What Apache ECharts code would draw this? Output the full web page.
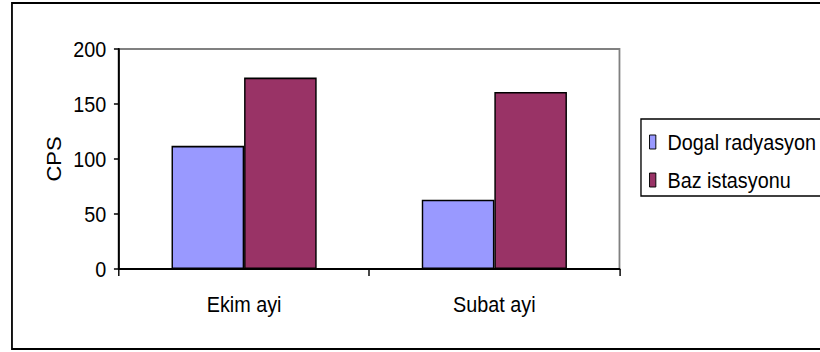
<!DOCTYPE html>
<html>
<head>
<meta charset="utf-8">
<script src="https://cdn.jsdelivr.net/npm/echarts@6/dist/echarts.min.js"></script>
<style>
  html, body { margin: 0; padding: 0; background: #fff; overflow: hidden; }
  #wrap { width: 820px; height: 352px; overflow: hidden; }
  /* The chart is laid out on a wider canvas and squeezed horizontally,
     which gives the condensed lettering of the original figure. */
  #chart { width: 911px; height: 352px; transform: scaleX(0.9); transform-origin: 0 0; }
</style>
</head>
<body>
<div id="wrap"><div id="chart"></div></div>
<script>
// Categories and series values
const categories = ['Ekim ayi', 'Subat ayi'];
const dogalRadyasyon = [112, 63];
const bazIstasyonu = [174, 161];
const yTicks = { min: 0, max: 200, interval: 50 };

const FONT = "'Liberation Sans', Arial, sans-serif";

const chart = echarts.init(document.getElementById('chart'), null, { renderer: 'svg' });

chart.setOption({
  backgroundColor: '#ffffff',
  animation: false,
  textStyle: { fontFamily: FONT },
  graphic: [
    {
      type: 'rect',
      shape: { x: 13.3, y: 3, width: 900, height: 346 },
      style: { fill: 'none', stroke: '#000', lineWidth: 2 },
      z: 0
    }
  ],
  grid: {
    left: 132.2, right: 222.7, top: 49, bottom: 83,
    show: true,
    borderColor: '#808080',
    borderWidth: 2,
    backgroundColor: '#ffffff'
  },
  legend: {
    orient: 'vertical',
    left: 712.2, top: 119,
    width: 200,
    padding: [11, 8, 4, 9],
    itemGap: 14,
    itemWidth: 7,
    itemHeight: 14,
    icon: 'rect',
    borderColor: '#000',
    borderWidth: 1.5,
    itemStyle: { borderColor: '#000', borderWidth: 1 },
    textStyle: { fontFamily: FONT, fontSize: 22, color: '#000', lineHeight: 24, padding: [0, 0, 0, 8] },
    data: ['Dogal radyasyon', 'Baz istasyonu']
  },
  xAxis: {
    type: 'category',
    data: categories,
    axisLine: { lineStyle: { color: '#000', width: 2 } },
    axisTick: { show: true, length: 7, lineStyle: { color: '#000', width: 1.6 } },
    axisLabel: { color: '#000', fontFamily: FONT, fontSize: 22, margin: 24 }
  },
  yAxis: {
    type: 'value',
    min: yTicks.min, max: yTicks.max, interval: yTicks.interval,
    name: 'CPS',
    nameLocation: 'middle',
    nameGap: 61,
    nameRotate: 90,
    nameTextStyle: { color: '#000', fontFamily: FONT, fontSize: 22 },
    axisLine: { show: true, lineStyle: { color: '#000', width: 2.2 } },
    axisTick: { show: true, length: 5.6, lineStyle: { color: '#000', width: 1.5 } },
    axisLabel: { color: '#000', fontFamily: FONT, fontSize: 22, margin: 14 },
    splitLine: { show: false }
  },
  series: [
    {
      name: 'Dogal radyasyon',
      type: 'bar',
      data: dogalRadyasyon,
      barGap: '0%',
      barCategoryGap: '42%',
      itemStyle: { color: '#9999FF', borderColor: '#000', borderWidth: 1.6 }
    },
    {
      name: 'Baz istasyonu',
      type: 'bar',
      data: bazIstasyonu,
      barGap: '0%',
      barCategoryGap: '42%',
      itemStyle: { color: '#993366', borderColor: '#000', borderWidth: 1.6 }
    }
  ]
});
</script>
</body>
</html>
